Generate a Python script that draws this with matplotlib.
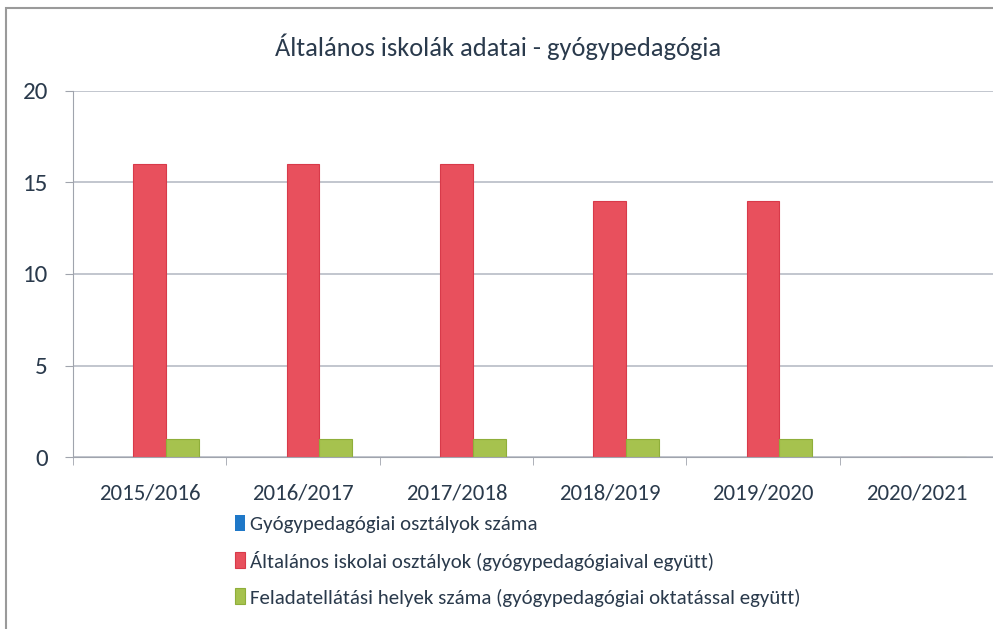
import matplotlib.pyplot as plt
import numpy as np
from matplotlib.patches import Rectangle

evek = ['2015/2016', '2016/2017', '2017/2018', '2018/2019', '2019/2020', '2020/2021']
gyogy_osztalyok = [0, 0, 0, 0, 0, 0]
altalanos_osztalyok = [16, 16, 16, 14, 14, 0]
feladatellatasi_helyek = [1, 1, 1, 1, 1, 0]
sorozat_nevek = ['Gyógypedagógiai osztályok száma',
                 'Általános iskolai osztályok (gyógypedagógiaival együtt)',
                 'Feladatellátási helyek száma (gyógypedagógiai oktatással együtt)']

plt.rcParams['font.family'] = ['Carlito', 'Roboto Condensed', 'PT Sans Narrow', 'DejaVu Sans']
szin_szoveg = '#2a3a4c'

fig = plt.figure(figsize=(9.93, 6.29), dpi=100)
ax = fig.add_axes([0.0735, 0.2734, 0.9265, 0.582])

x = np.arange(len(evek))
w = 0.215
ax.bar(x - w, gyogy_osztalyok, w, color='#1f78c8', label=sorozat_nevek[0])
ax.bar(x, altalanos_osztalyok, w, color='#e8505d', edgecolor='#d83a4a', linewidth=0.8, label=sorozat_nevek[1])
ax.bar(x + w, feladatellatasi_helyek, w, color='#a6c24e', edgecolor='#8fae3a', linewidth=0.8, label=sorozat_nevek[2])

ax.set_xlim(-0.5, len(evek) - 0.5)
ax.set_ylim(0, 20)
ax.set_yticks([0, 5, 10, 15, 20])
ax.yaxis.grid(True, color='#b8bcc6', linewidth=1.2)
ax.set_axisbelow(True)
for s in ['top', 'right']:
    ax.spines[s].set_visible(False)
ax.spines['left'].set_color('#a0a4ad')
ax.spines['bottom'].set_color('#a0a4ad')
ax.set_xticks(x)
ax.set_xticklabels(evek, fontsize=16.5, color=szin_szoveg)
ax.tick_params(axis='x', length=0, pad=19)
ax.set_xticks(np.arange(len(evek) + 1) - 0.5, minor=True)
ax.tick_params(axis='x', which='minor', length=6, color='#a0a4ad')
ax.tick_params(axis='y', labelsize=18, labelcolor=szin_szoveg, length=6, color='#a0a4ad', pad=12)

fig.text(0.502, 0.925, 'Általános iskolák adatai - gyógypedagógia', ha='center', va='center',
         fontsize=19, color=szin_szoveg)

leg = fig.legend(loc='upper left', bbox_to_anchor=(0.228, 0.195), frameon=False,
                 fontsize=15, handlelength=0.5, handleheight=0.8, handletextpad=0.25,
                 labelspacing=0.85, borderaxespad=0)
for t in leg.get_texts():
    t.set_color(szin_szoveg)

fig.patches.append(Rectangle((0.006, -0.01), 1.1, 0.998, transform=fig.transFigure,
                             fill=False, edgecolor='#9a9a9a', linewidth=1.5))

fig.savefig('out.png', dpi=100)
